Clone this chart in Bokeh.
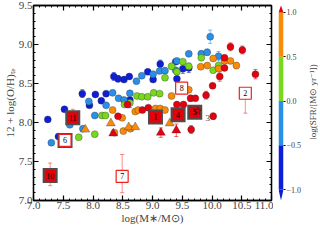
import numpy as np
from bokeh.plotting import figure
from bokeh.layouts import row
from bokeh.models import (ColumnDataSource, LinearColorMapper, Range1d, LinearAxis,
                          SingleIntervalTicker, FixedTicker, PrintfTickFormatter)
from bokeh.embed import file_html
from bokeh.resources import INLINE
from bokeh.core.properties import value
from bokeh.transform import transform

FONT = "Liberation Serif"

# ---------------- data ----------------
# colour bins of log(SFR) and their colours
cb_bounds = [-1.0, -0.5, 0.0, 0.5, 1.0]
cb_colors = ["#0d1fd6", "#2a8fe8", "#78d81c", "#f98b07"]
cb_over = "#e4000f"
cb_under = "#0d1fd6"
cb_ticks = [-1.0, -0.5, 0.0, 0.5, 1.0]
cb_tick_labels = ["\u22121.0", "\u22120.5", "0.0", "0.5", "1.0"]

# circles, log SFR ~ -0.75
g1_logm = [7.24, 7.42, 7.52, 7.82, 7.94, 8.04, 8.14, 8.22, 8.35, 8.42,
           8.52, 8.61, 8.62, 8.92, 9.01, 9.13, 9.39, 9.41, 9.51, 9.61]
g1_oh = [8.04, 7.82, 8.17, 8.37, 8.22, 8.36, 8.28, 8.37, 8.59, 8.56,
         8.55, 8.59, 8.29, 8.65, 8.55, 8.75, 8.78, 8.56, 8.69, 8.70]
g1_err = [0, 0, 0.03, 0.05, 0, 0, 0, 0, 0.05, 0.04,
          0, 0, 0.10, 0, 0, 0.05, 0, 0, 0.06, 0.06]
g1_sfr = -0.75

# circles, log SFR ~ -0.25
g2_logm = [7.30, 7.61, 7.83, 7.93, 8.03, 8.22, 8.33, 8.43, 8.52, 8.62, 8.73,
           8.82, 9.01, 9.12, 9.21, 9.39, 9.41, 9.61, 9.82, 9.92, 9.97, 10.11]
g2_oh = [7.74, 7.97, 7.92, 8.27, 8.09, 8.22, 8.38, 8.31, 8.29, 8.375, 8.53,
         8.60, 8.62, 8.66, 8.665, 8.67, 8.79, 8.88, 8.88, 8.90, 9.10, 8.85]
g2_err = [0, 0, 0, 0, 0, 0, 0, 0, 0, 0, 0,
          0, 0, 0, 0.04, 0, 0, 0, 0.04, 0.04, 0.085, 0.06]
g2_sfr = -0.25

# circles, log SFR ~ 0.25
g3_logm = [7.76, 8.03, 8.15, 8.21, 8.53, 8.62, 8.74, 8.82, 8.92, 9.02,
           9.12, 9.21, 9.32, 9.41, 9.51, 9.61, 9.82, 10.02, 10.11]
g3_oh = [7.81, 7.85, 8.09, 8.09, 8.23, 8.25, 8.34, 8.33, 8.33, 8.38,
         8.37, 8.575, 8.72, 8.65, 8.78, 8.72, 8.83, 8.67, 8.73]
g3_err = [0, 0, 0, 0, 0, 0, 0, 0, 0, 0,
          0, 0, 0.04, 0, 0, 0, 0, 0, 0]
g3_sfr = 0.25

# circles, log SFR ~ 0.75
g4_logm = [8.33, 8.36, 8.49, 8.51, 8.63, 8.71, 8.76, 9.05, 9.13, 9.21,
           9.32, 9.61, 9.81, 9.92, 10.02, 10.11, 10.21, 10.31, 10.41]
g4_oh = [8.16, 7.87, 8.06, 7.89, 7.92, 8.14, 8.16, 8.18, 8.18, 8.16,
         8.34, 8.42, 8.715, 8.73, 8.82, 8.69, 8.79, 8.79, 8.73]
g4_err = [0, 0, 0, 0, 0, 0, 0, 0, 0, 0,
          0, 0, 0, 0, 0, 0, 0, 0, 0.04]
g4_sfr = 0.75

# circles, log SFR > 1
g5_logm = [8.42, 8.58, 8.83, 8.93, 9.41, 9.52, 9.64, 9.72, 9.90, 10.01,
           10.13, 10.73, 10.02, 9.65, 10.31, 10.51, 10.21, 10.21]
g5_oh = [8.08, 8.23, 8.16, 8.19, 8.23, 8.23, 8.31, 8.31, 8.35, 8.47,
         8.59, 8.62, 8.08, 7.91, 8.97, 8.93, 8.83, 8.70]
g5_err = [0, 0, 0, 0, 0, 0, 0.04, 0, 0.05, 0,
          0.06, 0.06, 0.04, 0.05, 0.05, 0.05, 0, 0]
g5_sfr = 1.2

# triangles
tri_logm = [7.87, 8.30, 8.34, 8.60, 8.71, 9.14, 9.29, 9.40]
tri_oh = [7.91, 7.99, 7.86, 7.94, 7.94, 7.87, 7.99, 7.90]
tri_sfr = [0.75, 0.75, 1.2, 0.75, 0.75, 1.2, 0.75, 1.2]
tri_err = [0, 0, 0, 0, 0, 0.06, 0, 0.08]

# numbered literature objects (squares)
box_label = ["1", "2", "4", "5", "6", "7", "8", "10", "11"]
box_logm = [9.05, 10.56, 9.43, 9.71, 7.53, 8.49, 9.49, 7.28, 7.66]
box_oh = [8.07, 8.375, 8.10, 8.13, 7.77, 7.31, 8.44, 7.32, 8.06]
box_err_lo = [0.08, 0.255, 0.08, 0.06, 0, 0.21, 0, 0.13, 0]
box_err_hi = [0.08, 0, 0.08, 0.06, 0, 0.28, 0, 0.16, 0.11]
box_filled = [True, False, True, True, False, False, False, True, True]
box_shadow = [True, False, True, True, True, False, False, True, True]

star_logm = [9.76]
star_oh = [8.145]

note_label = ["3"]
note_logm = [9.93]
note_oh = [8.06]

# ---------------- build ----------------
mapper = LinearColorMapper(palette=cb_colors, low=cb_bounds[0], high=cb_bounds[-1],
                           high_color=cb_over, low_color=cb_under)

c_m, c_oh, c_err, c_sfr = [], [], [], []
for m, o, e, s in [(g1_logm, g1_oh, g1_err, g1_sfr), (g2_logm, g2_oh, g2_err, g2_sfr),
                   (g3_logm, g3_oh, g3_err, g3_sfr), (g4_logm, g4_oh, g4_err, g4_sfr),
                   (g5_logm, g5_oh, g5_err, g5_sfr)]:
    c_m += m; c_oh += o; c_err += e; c_sfr += [s] * len(m)

FH = 195
p = figure(frame_width=238, frame_height=FH, x_range=Range1d(7, 11), y_range=Range1d(7, 9.5),
           output_backend="svg", toolbar_location=None,
           min_border_left=0, min_border_right=2, min_border_top=5, min_border_bottom=0)
p.grid.visible = False
p.outline_line_color = "black"
p.outline_line_width = 1.3
p.background_fill_color = "white"

def err_src(xs, ys, lo, hi, sfr):
    d = dict(x=[], y0=[], y1=[], sfr=[])
    for x, y, a, b, s in zip(xs, ys, lo, hi, sfr):
        if a > 0 or b > 0:
            d["x"].append(x); d["y0"].append(y - a); d["y1"].append(y + b); d["sfr"].append(s)
    return ColumnDataSource(d)

def draw_err(src, color, lo=True, hi=True):
    p.segment(x0="x", y0="y0", x1="x", y1="y1", source=src, line_color=color,
              line_alpha=0.55, line_width=1)
    if lo:
        p.scatter(x="x", y="y0", marker="dash", size=4, source=src, line_color=color, line_alpha=0.6)
    if hi:
        p.scatter(x="x", y="y1", marker="dash", size=4, source=src, line_color=color, line_alpha=0.6)

cmap = transform("sfr", mapper)

# error bars of circles and triangles
draw_err(err_src(c_m, c_oh, c_err, c_err, c_sfr), cmap)
draw_err(err_src(tri_logm, tri_oh, tri_err, tri_err, tri_sfr), cmap)

circ = ColumnDataSource(dict(x=c_m, y=c_oh, sfr=c_sfr))
p.scatter(x="x", y="y", source=circ, marker="circle", size=7, fill_color=cmap,
          line_color="#333333", line_width=0.5, line_alpha=0.7)

tri = ColumnDataSource(dict(x=tri_logm, y=tri_oh, sfr=tri_sfr))
p.scatter(x="x", y="y", source=tri, marker="triangle", size=9, fill_color=cmap,
          line_color="#333333", line_width=0.5, line_alpha=0.7)

# boxes
lo_src = err_src(box_logm, box_oh, box_err_lo, [0] * len(box_logm), [1.2] * len(box_logm))
hi_src = err_src(box_logm, box_oh, [0] * len(box_logm), box_err_hi, [1.2] * len(box_logm))
for src, lo, hi in [(lo_src, True, False), (hi_src, False, True)]:
    draw_err(src, "#ff3030", lo, hi)

sh = ColumnDataSource(dict(x=[x for x, s in zip(box_logm, box_shadow) if s],
                           y=[y for y, s in zip(box_oh, box_shadow) if s]))
p.scatter(x="x", y="y", source=sh, marker="square", size=15, fill_color="#4d4d4d",
          line_color=None)
fl = ColumnDataSource(dict(x=[x for x, f in zip(box_logm, box_filled) if f],
                           y=[y for y, f in zip(box_oh, box_filled) if f]))
p.scatter(x="x", y="y", source=fl, marker="square", size=11, fill_color="#e6000a",
          line_color=None)
op = ColumnDataSource(dict(x=[x for x, f in zip(box_logm, box_filled) if not f],
                           y=[y for y, f in zip(box_oh, box_filled) if not f]))
p.scatter(x="x", y="y", source=op, marker="square", size=12, fill_color="white",
          line_color="#ee2020", line_width=1.2)

p.scatter(x=star_logm, y=star_oh, marker="star", size=8, fill_color="#e6000a",
          line_color="#222222", line_width=0.6)

lab = ColumnDataSource(dict(x=box_logm, y=box_oh, t=box_label))
p.text(x="x", y="y", text="t", source=lab, text_font=value(FONT), text_font_size="8px",
       text_align="center", text_baseline="middle", text_color="black")
p.text(x=note_logm, y=note_oh, text=note_label, text_font=value(FONT), text_font_size="9px",
       text_align="center", text_baseline="middle", text_color="#444444")

# axes
def style_axis(ax, show_labels):
    ax.ticker = SingleIntervalTicker(interval=0.5, num_minor_ticks=5)
    ax.formatter = PrintfTickFormatter(format="%.1f")
    ax.major_tick_in = 5
    ax.major_tick_out = 0
    ax.minor_tick_in = 2
    ax.minor_tick_out = 0
    ax.axis_line_width = 1.3
    ax.major_tick_line_width = 1.2
    ax.minor_tick_line_width = 1
    ax.major_label_text_font = FONT
    ax.axis_label_text_font = FONT
    ax.axis_label_text_font_style = "normal"
    if show_labels:
        ax.major_label_text_font_size = "11px"
        ax.axis_label_text_font_size = "11px"
        ax.major_label_standoff = 1
        ax.axis_label_standoff = 0
    else:
        ax.major_label_text_font_size = "1px"
        ax.major_label_text_color = None
        ax.major_label_standoff = 0

style_axis(p.xaxis[0], True)
style_axis(p.yaxis[0], True)
p.xaxis[0].axis_label = "log(M\u2217/M\u2299)"
p.yaxis[0].axis_label = "12 + log(O/H)\u209c\u2091"
top_ax = LinearAxis()
style_axis(top_ax, False)
p.add_layout(top_ax, "above")
right_ax = LinearAxis()
style_axis(right_ax, False)
p.add_layout(right_ax, "right")

# colour bar as its own small figure
CB_TOP = 1.079
CB_BOT = -1.124
cb = figure(frame_width=5, frame_height=FH, x_range=Range1d(0, 1), y_range=Range1d(CB_BOT, CB_TOP),
            output_backend="svg", toolbar_location=None, x_axis_location=None,
            y_axis_location="right", min_border_left=5, min_border_right=0,
            min_border_top=5, min_border_bottom=224 - 5 - FH)
cb.grid.visible = False
cb.outline_line_color = None
cb.quad(left=0, right=1, bottom=cb_bounds[:-1], top=cb_bounds[1:], fill_color=cb_colors,
        line_color=None)
cb.patch(x=[0, 1, 0.5], y=[cb_bounds[-1], cb_bounds[-1], CB_TOP], fill_color=cb_over,
         line_color=None)
cb.patch(x=[0, 1, 0.5], y=[cb_bounds[0], cb_bounds[0], CB_BOT], fill_color=cb_under,
         line_color=None)
ya = cb.yaxis[0]
ya.ticker = FixedTicker(ticks=cb_ticks)
ya.major_label_overrides = {t: s for t, s in zip(cb_ticks, cb_tick_labels)}
ya.axis_line_color = None
ya.major_tick_in = 0
ya.major_tick_out = 2
ya.minor_tick_out = 0
ya.minor_tick_in = 0
ya.major_label_standoff = 1
ya.major_label_text_font = FONT
ya.major_label_text_font_size = "8px"

# rotated colour-bar title: a left axis (reads bottom-to-top) on a 1px-wide strip
lb = figure(frame_width=1, frame_height=FH, x_range=Range1d(0, 1), y_range=Range1d(0, 1),
            output_backend="svg", toolbar_location=None, x_axis_location=None,
            y_axis_location="left", min_border_left=0, min_border_right=0,
            min_border_top=5, min_border_bottom=224 - 5 - FH)
lb.grid.visible = False
lb.outline_line_color = None
la = lb.yaxis[0]
la.ticker = FixedTicker(ticks=[])
la.axis_line_color = None
la.major_tick_out = 0
la.major_tick_in = 0
la.minor_tick_out = 0
la.minor_tick_in = 0
la.major_label_standoff = 0
la.major_label_text_font_size = "1px"
la.major_label_text_color = None
la.axis_label = "log(SFR/[M\u2299 yr\u207b\u00b9])"
la.axis_label_text_font = FONT
la.axis_label_text_font_style = "normal"
la.axis_label_text_font_size = "9px"
la.axis_label_standoff = 0

layout = row(p, cb, lb, spacing=0)
open("out.html", "w").write(file_html(layout, INLINE))
